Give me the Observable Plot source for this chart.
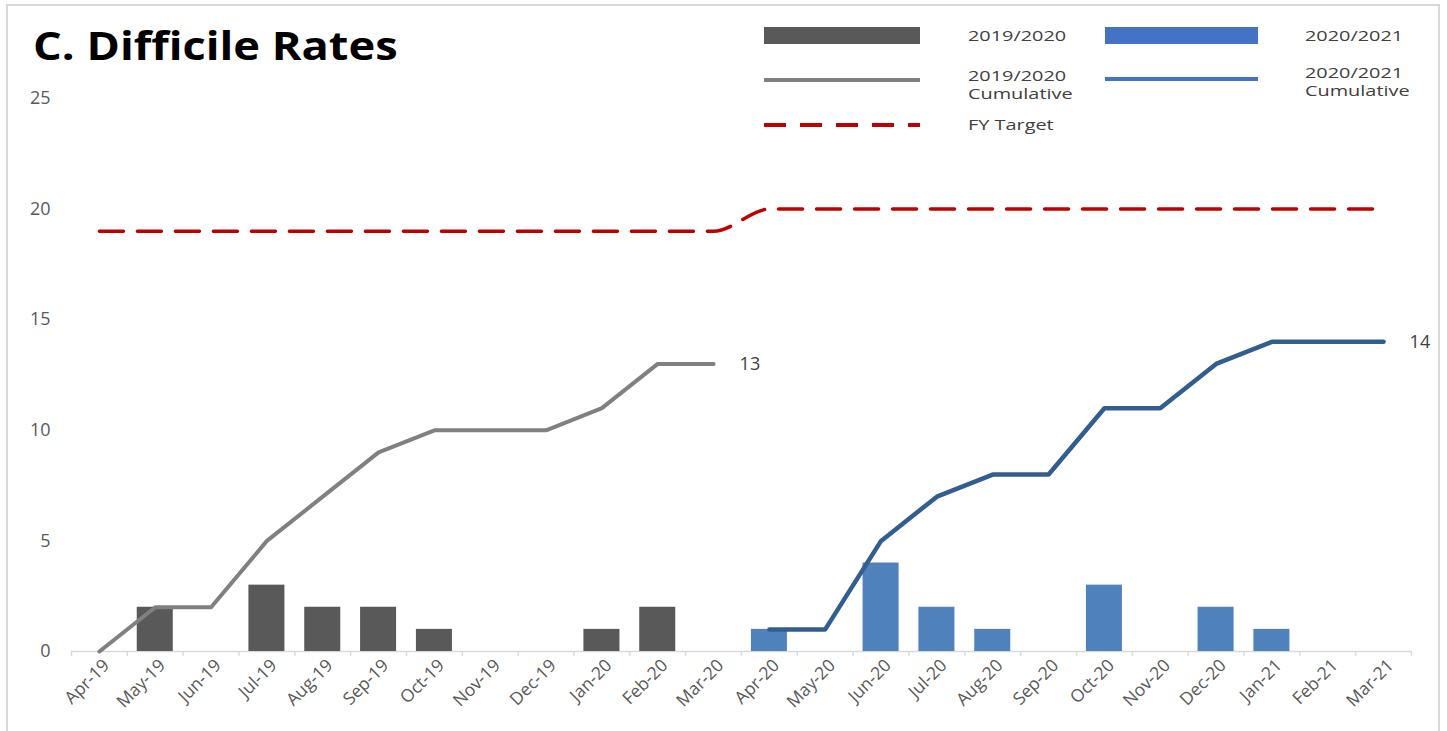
<!DOCTYPE html>
<html>
<head>
<meta charset="utf-8">
<script src="https://cdn.jsdelivr.net/npm/d3@7"></script>
<script src="https://cdn.jsdelivr.net/npm/@observablehq/plot@0.6"></script>
<style>
  html, body { margin: 0; padding: 0; background: #fff; }
  #wrap { position: relative; width: 1447px; height: 731px; overflow: hidden; font-family: "Open Sans", sans-serif; }
  #frame { position: absolute; left: 6px; top: 4px; width: 1434px; height: 760px; border: 2px solid #d9d9d9; box-sizing: border-box; }
  #chart { position: absolute; left: 0; top: 0; }
  #title { position: absolute; left: 33px; top: 25px; font: 700 40px/40px "Open Sans", sans-serif; color: #000; transform: scaleX(1.13); transform-origin: left top; white-space: nowrap; }
  .lg-sw { position: absolute; }
  .lg-tx { position: absolute; font: 14px/18px "Open Sans", sans-serif; color: #404040; transform: scaleX(1.42); transform-origin: left top; white-space: nowrap; }
</style>
</head>
<body>
<div id="wrap">
  <div id="frame"></div>
  <div id="chart"></div>
  <div id="title"></div>
  <div id="legend"></div>
</div>
<script>
// ---- data ----
const months = ["Apr-19","May-19","Jun-19","Jul-19","Aug-19","Sep-19","Oct-19","Nov-19","Dec-19","Jan-20","Feb-20","Mar-20",
                "Apr-20","May-20","Jun-20","Jul-20","Aug-20","Sep-20","Oct-20","Nov-20","Dec-20","Jan-21","Feb-21","Mar-21"];
const months1920 = months.slice(0, 12);
const months2021 = months.slice(12);
const monthly1920 = [0, 2, 0, 3, 2, 2, 1, 0, 0, 1, 2, 0];
const monthly2021 = [1, 0, 4, 2, 1, 0, 3, 0, 2, 1, 0, 0];
const cumulative1920 = [0, 2, 2, 5, 7, 9, 10, 10, 10, 11, 13, 13];
const cumulative2021 = [1, 1, 5, 7, 8, 8, 11, 11, 13, 14, 14, 14];
const fyTarget = [19,19,19,19,19,19,19,19,19,19,19,19, 20,20,20,20,20,20,20,20,20,20,20,20];
const yTicks = [0, 5, 10, 15, 20, 25];
const titleText = "C. Difficile Rates";
const legendLabels = ["2019/2020", "2020/2021", "2019/2020\nCumulative", "2020/2021\nCumulative", "FY Target"];

// ---- tables ----
const bars1920 = months1920.map((m, i) => ({month: m, value: monthly1920[i]}));
const bars2021 = months2021.map((m, i) => ({month: m, value: monthly2021[i]}));
const cum1920 = months1920.map((m, i) => ({month: m, value: cumulative1920[i]}));
const cum2021 = months2021.map((m, i) => ({month: m, value: cumulative2021[i]}));
const target = months.map((m, i) => ({month: m, value: fyTarget[i]}));

const W = 1447, H = 731, ML = 71, MR = 36, MT = 98, MB = 80;
const step = (W - ML - MR) / months.length;

const C_BAR1 = "#595959", C_BAR2 = "#4f81bd", C_LINE1 = "#808080", C_LINE2 = "#325d91", C_TGT = "#c00000";

const chart = Plot.plot({
  width: W, height: H,
  marginLeft: ML, marginRight: MR, marginTop: MT, marginBottom: MB,
  style: {fontFamily: "Open Sans, sans-serif", fontSize: "16px", color: "#595959", background: "transparent"},
  x: {type: "band", domain: months, paddingInner: 0.355, paddingOuter: 0.1775, round: false, axis: null},
  y: {domain: [0, 25], axis: null},
  marks: [
    Plot.text(yTicks, {y: d => d, text: d => String(d), frameAnchor: "left", textAnchor: "end", dx: -21, fontSize: 18, fill: "#595959"}),
    Plot.ruleY([0], {stroke: "#d9d9d9", strokeWidth: 1.5}),
    Plot.ruleX(months, {x: d => d, y1: 0, y2: -0.22, dx: -step / 2, stroke: "#d9d9d9", strokeWidth: 1.5}),
    Plot.ruleX([months[months.length - 1]], {x: d => d, y1: 0, y2: -0.22, dx: step / 2, stroke: "#d9d9d9", strokeWidth: 1.5}),
    Plot.text(months, {x: d => d, frameAnchor: "bottom", rotate: -45, textAnchor: "end", dx: 11, dy: 15, fontSize: 17.5, fill: "#595959"}),
    Plot.barY(bars1920, {x: "month", y: "value", fill: C_BAR1}),
    Plot.barY(bars2021, {x: "month", y: "value", fill: C_BAR2}),
    Plot.line(target, {x: "month", y: "value", stroke: C_TGT, strokeWidth: 3.5, strokeDasharray: "24,14", curve: "monotone-x"}),
    Plot.line(cum1920, {x: "month", y: "value", stroke: C_LINE1, strokeWidth: 4, strokeLinejoin: "round", strokeLinecap: "round"}),
    Plot.line(cum2021, {x: "month", y: "value", stroke: C_LINE2, strokeWidth: 4.5, strokeLinejoin: "round", strokeLinecap: "round"}),
    Plot.text([cum1920[cum1920.length - 1]], {x: "month", y: "value", text: d => String(d.value), dx: 26, textAnchor: "start", fontSize: 18, fill: "#404040"}),
    Plot.text([cum2021[cum2021.length - 1]], {x: "month", y: "value", text: d => String(d.value), dx: 26, textAnchor: "start", fontSize: 18, fill: "#404040"})
  ]
});
document.getElementById("chart").appendChild(chart);
document.getElementById("title").textContent = titleText;

// ---- legend (HTML overlay) ----
const legend = document.getElementById("legend");
const swatch = (left, top, svgInner) => {
  const d = document.createElement("div");
  d.className = "lg-sw";
  d.style.left = left + "px"; d.style.top = top + "px";
  d.innerHTML = `<svg width="160" height="20">${svgInner}</svg>`;
  legend.appendChild(d);
};
const label = (left, top, text) => {
  const d = document.createElement("div");
  d.className = "lg-tx";
  d.style.left = left + "px"; d.style.top = top + "px";
  d.innerHTML = text.split("\n").join("<br>");
  legend.appendChild(d);
};
swatch(764, 26, `<rect x="0" y="1" width="156" height="17" fill="${C_BAR1}"/>`);
label(968, 27, legendLabels[0]);
swatch(1105, 26, `<rect x="0" y="1" width="153" height="17" fill="#4472c4"/>`);
label(1305, 27, legendLabels[1]);
swatch(764, 70, `<line x1="0" x2="156" y1="10" y2="10" stroke="${C_LINE1}" stroke-width="4"/>`);
label(968, 67, legendLabels[2]);
swatch(1105, 69, `<line x1="0" x2="153" y1="10" y2="10" stroke="#4472c4" stroke-width="4"/>`);
label(1305, 64, legendLabels[3]);
swatch(764, 115, `<line x1="0" x2="156" y1="10" y2="10" stroke="${C_TGT}" stroke-width="4" stroke-dasharray="22,14"/>`);
label(968, 116, legendLabels[4]);
</script>
</body>
</html>
